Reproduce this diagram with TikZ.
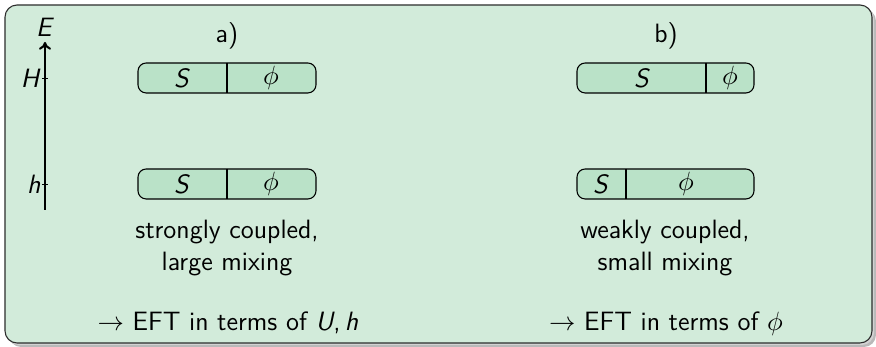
\documentclass[tikz,border=0pt]{standalone}
\usepackage{amsmath}
\usetikzlibrary{arrows.meta}
\definecolor{blockbg}{RGB}{210,235,218}
\definecolor{barfill}{RGB}{186,226,200}
\definecolor{edgegray}{RGB}{45,45,45}
\begin{document}
\begin{tikzpicture}[x=0.415pt,y=-0.415pt,
  txt/.style={font=\fontsize{11}{13.6}\selectfont\sffamily, inner sep=0pt},
  barbox/.style={draw=black, line width=0.45pt, fill=barfill, rounded corners=3.4pt},
  divline/.style={draw=black, line width=0.45pt},
  axis/.style={line width=0.85pt, -{To[length=3.2pt,width=5pt]}},
  tick/.style={line width=0.4pt}]
\useasboundingbox (0,0) rectangle (876,347);
% shadow and block
\fill[gray!55, rounded corners=5pt] (9,9) rectangle (876,347);
\fill[gray!35, rounded corners=5pt] (7,7) rectangle (874,345);
\draw[fill=blockbg, draw=edgegray, line width=0.45pt, rounded corners=5pt] (5,5) rectangle (872,343);

% energy axis
\coordinate (axbot) at (45,210);
\coordinate (axtop) at (45,42);
\draw[axis] (axbot) -- (axtop);
\node[txt] (E) at (45,27) {\textit{E}};
\coordinate (tH1) at (42,78); \coordinate (tH2) at (48,78);
\coordinate (th1) at (42,184); \coordinate (th2) at (48,184);
\draw[tick] (tH1) -- (tH2);
\draw[tick] (th1) -- (th2);
\node[txt, anchor=east] (H) at (41,78) {\textit{H}};
\node[txt, anchor=east] (h) at (41,184) {\textit{h}};

% labels
\node[txt] (la) at (227,36) {a)};
\node[txt] (lb) at (666,36) {b)};

% a) bars
\draw[barbox] (138,63) rectangle (316,93);
\draw[divline] (227,63) -- (227,93);
\node[txt] (aHS) at (182,78) {\textit{S}};
\node[txt] (aHp) at (271,78) {$\phi$};
\draw[barbox] (138,169) rectangle (316,199);
\draw[divline] (227,169) -- (227,199);
\node[txt] (ahS) at (182,184) {\textit{S}};
\node[txt] (ahp) at (271,184) {$\phi$};

% b) bars
\draw[barbox] (577,63) rectangle (754,93);
\draw[divline] (706,63) -- (706,93);
\node[txt] (bHS) at (642,78) {\textit{S}};
\node[txt] (bHp) at (730,78) {$\phi$};
\draw[barbox] (577,169) rectangle (754,199);
\draw[divline] (626,169) -- (626,199);
\node[txt] (bhS) at (601,184) {\textit{S}};
\node[txt] (bhp) at (686,184) {$\phi$};

% descriptions
\node[txt, align=center] (da) at (227,248) {strongly coupled,\\large mixing};
\node[txt, align=center] (db) at (665,248) {weakly coupled,\\small mixing};
\node[txt, anchor=base] (ea) at (228,331) {$\rightarrow$ EFT in terms of \textit{U},\thinspace\textit{h}};
\node[txt, anchor=base] (eb) at (666,331) {$\rightarrow$ EFT in terms of $\phi$};
\end{tikzpicture}
\end{document}
